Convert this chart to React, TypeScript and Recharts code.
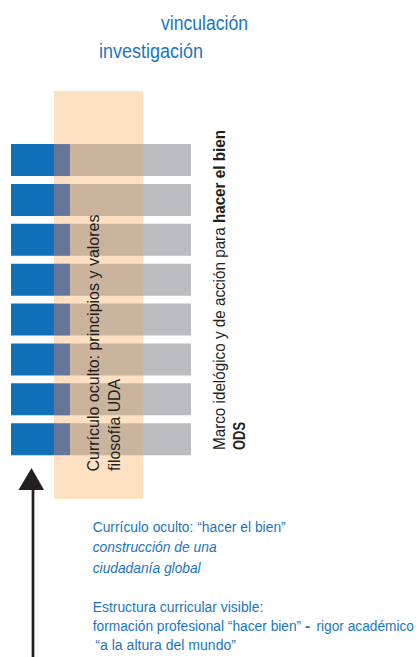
import { BarChart, Bar, XAxis, YAxis, ReferenceArea } from "recharts"

// eight stacked rows, read left to right in axis units (0..180)
const rowIndex = [1, 2, 3, 4, 5, 6, 7, 8]
const blueVisible = [43, 43, 43, 43, 43, 43, 43, 43]
const blueUnderBand = [16, 16, 16, 16, 16, 16, 16, 16]
const grayUnderBand = [73, 73, 73, 73, 73, 73, 73, 73]
const grayVisible = [48, 48, 48, 48, 48, 48, 48, 48]
const bandRange = [43, 132.3]

const data = rowIndex.map((pos, i) => ({
  pos,
  blue: blueVisible[i],
  blueBand: blueUnderBand[i],
  grayBand: grayUnderBand[i],
  gray: grayVisible[i],
}))

const BLUE_TEXT = "#1C75BC"
const DARK = "#231F20"
const FONT = "'Liberation Sans', Arial, sans-serif"

export default function App() {
  return (
    <div
      style={{
        position: "absolute",
        left: 0,
        top: 0,
        width: 416,
        height: 657,
        background: "#fff",
        overflow: "hidden",
      }}
    >
      <div style={{ position: "absolute", left: 0, top: 0 }}>
        <BarChart
          width={416}
          height={657}
          data={data}
          layout="vertical"
          margin={{ top: 91, bottom: 158, left: 11, right: 225 }}
        >
          <XAxis type="number" domain={[0, 180]} hide allowDataOverflow />
          <YAxis
            type="number"
            dataKey="pos"
            domain={[-0.73, 9.5]}
            ticks={rowIndex}
            hide
            allowDataOverflow
          />
          <ReferenceArea
            x1={bandRange[0]}
            x2={bandRange[1]}
            fill="#FDE1C2"
            fillOpacity={1}
            stroke="none"
            ifOverflow="visible"
          />
          <Bar dataKey="blue" stackId="a" fill="#1070B8" barSize={32} isAnimationActive={false} />
          <Bar dataKey="blueBand" stackId="a" fill="#677598" barSize={32} isAnimationActive={false} />
          <Bar dataKey="grayBand" stackId="a" fill="#CBB49D" barSize={32} isAnimationActive={false} />
          <Bar dataKey="gray" stackId="a" fill="#BBBCC0" barSize={32} isAnimationActive={false} />
        </BarChart>
      </div>

      <svg
        width={416}
        height={657}
        style={{ position: "absolute", left: 0, top: 0, pointerEvents: "none" }}
        fontFamily={FONT}
      >
        <text x={161} y={30} fontSize={20} fill={BLUE_TEXT} textLength={87} lengthAdjust="spacingAndGlyphs">
          vinculación
        </text>
        <text x={99} y={58} fontSize={20} fill={BLUE_TEXT} textLength={104} lengthAdjust="spacingAndGlyphs">
          investigación
        </text>

        <text
          transform="translate(98.5,471.5) rotate(-90)"
          fontSize={17}
          fill={DARK}
          textLength={257}
          lengthAdjust="spacingAndGlyphs"
        >
          Currículo oculto: principios y valores
        </text>
        <text
          transform="translate(119.5,471) rotate(-90)"
          fontSize={17}
          fill={DARK}
          textLength={92}
          lengthAdjust="spacingAndGlyphs"
        >
          filosofía UDA
        </text>

        <text
          transform="translate(224.5,450) rotate(-90)"
          fontSize={17}
          fill={DARK}
          textLength={320}
          lengthAdjust="spacingAndGlyphs"
        >
          Marco idelógico y de acción para <tspan fontWeight="bold">hacer el bien</tspan>
        </text>
        <text
          transform="translate(245,450) rotate(-90)"
          fontSize={17}
          fontWeight="bold"
          fill={DARK}
          textLength={28}
          lengthAdjust="spacingAndGlyphs"
        >
          ODS
        </text>

        <line x1={33} y1={488} x2={33} y2={657} stroke={DARK} strokeWidth={2.7} />
        <polygon points="31.5,468 18.5,490 44,490" fill={DARK} />

        <g fontSize={15.5} fill={BLUE_TEXT}>
          <text x={92.7} y={532} textLength={193} lengthAdjust="spacingAndGlyphs">
            Currículo oculto: “hacer el bien”
          </text>
          <text x={92.7} y={552} fontStyle="italic" textLength={124} lengthAdjust="spacingAndGlyphs">
            construcción de una
          </text>
          <text x={92.7} y={572.5} fontStyle="italic" textLength={108} lengthAdjust="spacingAndGlyphs">
            ciudadanía global
          </text>
          <text x={92.7} y={611.5} textLength={170.6} lengthAdjust="spacingAndGlyphs">
            Estructura curricular visible:
          </text>
          <text x={92.7} y={630.7} textLength={208.5} lengthAdjust="spacingAndGlyphs">
            formación profesional “hacer bien”
          </text>
          <text x={305} y={630.7} fontWeight="bold">
            -
          </text>
          <text x={316.5} y={630.7} textLength={97.5} lengthAdjust="spacingAndGlyphs">
            rigor académico
          </text>
          <text x={95.3} y={649.5} textLength={140.7} lengthAdjust="spacingAndGlyphs">
            “a la altura del mundo”
          </text>
        </g>
      </svg>
    </div>
  )
}
